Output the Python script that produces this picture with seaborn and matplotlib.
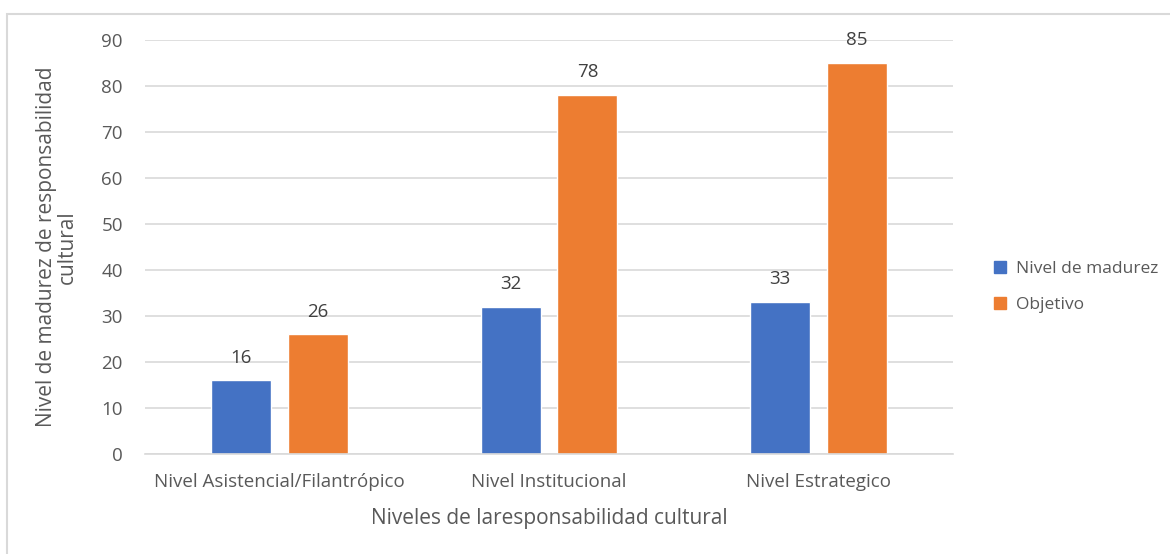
import matplotlib
matplotlib.use("Agg")
import matplotlib.pyplot as plt
import seaborn as sns
import pandas as pd
from matplotlib.patches import Rectangle
from matplotlib.lines import Line2D

categories = ["Nivel Asistencial/Filantrópico", "Nivel Institucional", "Nivel Estrategico"]
madurez = [16, 32, 33]
objetivo = [26, 78, 85]
series_names = ["Nivel de madurez", "Objetivo"]
yticks = [0, 10, 20, 30, 40, 50, 60, 70, 80, 90]

df = pd.DataFrame({
    "cat": categories * 2,
    "val": madurez + objetivo,
    "serie": [series_names[0]] * 3 + [series_names[1]] * 3,
})

sns.set_theme(style="white")
plt.rcParams["font.family"] = ["Open Sans", "DejaVu Sans"]

colors = ["#4472C4", "#ED7D31"]
txt = "#595959"

fig = plt.figure(figsize=(11.7, 5.54), dpi=100)
ax = fig.add_axes([145 / 1170, 1 - 454 / 554, (953 - 145) / 1170, (454 - 40) / 554])

sns.barplot(data=df, x="cat", y="val", hue="serie", palette=colors,
            width=0.57, gap=0.22, ax=ax, legend=False, saturation=1)

ax.set_xlim(-0.5, 2.5)
ax.set_ylim(0, 90)
ax.set_yticks(yticks)
ax.yaxis.grid(True, color="#D9D9D9", linewidth=1.2)
ax.set_axisbelow(True)
for s in ["top", "right", "left"]:
    ax.spines[s].set_visible(False)
ax.spines["bottom"].set_color("#D9D9D9")
ax.spines["bottom"].set_linewidth(1.2)
ax.tick_params(axis="both", length=0, labelsize=13.5, labelcolor=txt)
ax.tick_params(axis="y", pad=16)
ax.tick_params(axis="x", pad=14)

for cont in ax.containers:
    ax.bar_label(cont, padding=10, fontsize=13.5, color="#404040")

ax.set_xlabel("Niveles de laresponsabilidad cultural", fontsize=15, color=txt, labelpad=12)
ax.set_ylabel("Nivel de madurez de responsabilidad\ncultural", fontsize=15, color=txt,
              labelpad=17, linespacing=1.0)

handles = [Line2D([0], [0], marker="s", linestyle="none", markersize=9,
                  markerfacecolor=c, markeredgecolor=c) for c in colors]
leg = fig.legend(handles, series_names, loc="center left",
                 bbox_to_anchor=(976 / 1170, 1 - 287 / 554), frameon=False,
                 fontsize=12.5, handletextpad=-0.1, labelspacing=1.1, borderaxespad=0)
for t in leg.get_texts():
    t.set_color(txt)

fig.patches.append(Rectangle((7 / 1170, -0.05), 1.1, 1 - 14 / 554 + 0.05,
                             transform=fig.transFigure, fill=False,
                             edgecolor="#D9D9D9", linewidth=1.5, zorder=0))

fig.savefig("out.png", dpi=100)
